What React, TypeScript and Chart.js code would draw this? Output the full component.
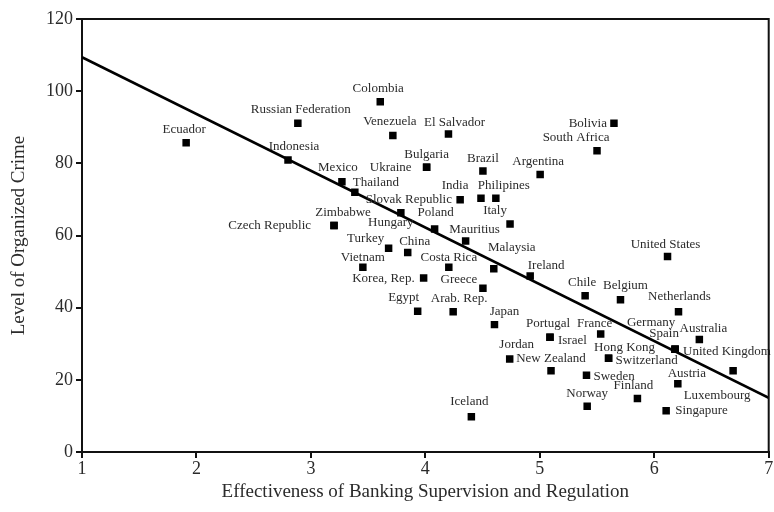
import React, { useEffect, useRef } from "react";
import { Chart, registerables } from "chart.js";

Chart.register(...registerables);

// ---- Data ----
const countries = [
  "Ecuador", "Russian Federation", "Colombia", "Venezuela", "El Salvador", "Indonesia",
  "Bolivia", "South Africa", "Bulgaria", "Ukraine", "Brazil", "Argentina", "Mexico",
  "Thailand", "India", "Philipines", "Slovak Republic", "Hungary", "Italy",
  "Czech Republic", "Zimbabwe", "Poland", "Mauritius", "Turkey", "China", "Vietnam",
  "Costa Rica", "Malaysia", "Ireland", "Korea, Rep.", "Greece", "Egypt", "Arab. Rep.",
  "Japan", "Portugal", "Israel", "Jordan", "New Zealand", "Sweden", "Norway", "Finland",
  "Singapure", "Austria", "Luxembourg", "United Kingdom", "Spain", "Germany",
  "Netherlands", "Australia", "France", "Hong Kong", "Switzerland", "Chile", "Belgium",
  "United States", "Iceland",
];

const supervision = [
  1.91, 2.886, 3.606, 3.716, 4.202, 2.8,
  5.648, 5.5, 4.011, 4.011, 4.503, 5.003, 3.271,
  3.384, 4.304, 4.616, 4.486, 3.786, 4.74,
  3.202, 3.202, 4.081, 4.352, 3.679, 3.846, 3.454,
  4.205, 4.598, 4.916, 3.985, 4.503, 3.933, 4.243,
  4.604, 5.089, 5.089, 4.737, 5.098, 5.408, 5.414, 5.853,
  6.104, 6.206, 6.689, 6.182, 6.182, 6.182,
  6.212, 6.394, 5.532, 5.601, 5.601, 5.396, 5.705,
  6.116, 4.402,
];

const organizedCrime = [
  85.7, 91.1, 97.1, 87.7, 88.1, 80.9,
  91.1, 83.5, 78.9, 78.9, 77.9, 76.9, 74.9,
  72.0, 69.9, 70.3, 70.3, 66.3, 63.2,
  62.8, 62.8, 61.8, 58.5, 56.5, 55.3, 51.2,
  51.2, 50.8, 48.8, 48.2, 45.4, 39.0, 38.9,
  35.3, 31.8, 31.8, 25.8, 22.5, 21.3, 12.7, 14.8,
  11.4, 18.9, 22.5, 28.5, 28.5, 28.5,
  38.9, 31.2, 32.7, 26.0, 26.0, 43.3, 42.2,
  54.2, 9.8,
];

const fitX = [1, 7];
const fitY = [109.4, 15.0];

const xTicks = [1, 2, 3, 4, 5, 6, 7];
const yTicks = [0, 20, 40, 60, 80, 100, 120];

// ---- Label placement (pixel offsets from marker; c=center, l=left edge, r=right edge) ----
const labelPlacement: [number, number, "c" | "l" | "r"][] = [
  [-2, -13, "c"], [3, -14, "c"], [-2, -13, "c"], [-3, -14, "c"], [6, -12, "c"], [6, -14, "c"],
  [-7, 0, "r"], [-21, -13, "c"], [0, -13, "c"], [-15, 0, "r"], [0, -12, "c"], [-2, -13, "c"], [-4, -14, "c"],
  [21, -10, "c"], [-5, -14, "c"], [8, -13, "c"], [-29, 1, "r"], [-10, 10, "c"], [-15, -13, "c"],
  [-23, 0, "r"], [9, -13, "c"], [1, -16, "c"], [9, -11, "c"], [-23, -10, "c"], [7, -11, "c"], [0, -10, "c"],
  [0, -10, "c"], [18, -21, "c"], [16, -10, "c"], [-9, 0, "r"], [-24, -9, "c"], [-14, -14, "c"], [6, -13, "c"],
  [10, -13, "c"], [-2, -14, "c"], [8, 3, "l"], [7, -14, "c"], [0, -12, "c"], [7, 1, "l"], [0, -13, "c"], [-4, -13, "c"],
  [9, 0, "l"], [9, -10, "c"], [-16, 25, "c"], [8, 2, "l"], [-11, -16, "c"], [-24, -27, "c"],
  [1, -15, "c"], [4, -11, "c"], [-6, -10, "c"], [16, -11, "c"], [7, 2, "l"], [-3, -13, "c"], [5, -14, "c"],
  [-2, -12, "c"], [-2, -15, "c"],
];

const SERIF = "'Liberation Serif', 'Times New Roman', serif";
const TEXT = "#2b2b2b";

const labelsPlugin = {
  id: "countryLabels",
  afterDatasetsDraw(chart: any) {
    const { ctx, scales } = chart;
    ctx.save();
    ctx.font = `13px ${SERIF}`;
    ctx.fillStyle = TEXT;
    ctx.textBaseline = "middle";
    countries.forEach((name, i) => {
      const px = scales.x.getPixelForValue(supervision[i]);
      const py = scales.y.getPixelForValue(organizedCrime[i]);
      const [dx, dy, al] = labelPlacement[i];
      ctx.textAlign = al === "c" ? "center" : al === "l" ? "left" : "right";
      ctx.fillText(name, px + dx, py + dy);
    });
    ctx.restore();
  },
};

const framePlugin = {
  id: "frame",
  afterDraw(chart: any) {
    const { ctx, chartArea } = chart;
    ctx.save();
    ctx.strokeStyle = "#111";
    ctx.lineWidth = 2;
    ctx.beginPath();
    ctx.moveTo(chartArea.left, chartArea.top);
    ctx.lineTo(chartArea.right, chartArea.top);
    ctx.lineTo(chartArea.right, chartArea.bottom);
    ctx.stroke();
    ctx.restore();
  },
};

export default function App() {
  const ref = useRef<HTMLCanvasElement>(null);

  useEffect(() => {
    if (!ref.current) return;
    const chart = new Chart(ref.current, {
      type: "scatter",
      data: {
        datasets: [
          {
            label: "Countries",
            data: countries.map((_, i) => ({ x: supervision[i], y: organizedCrime[i] })),
            pointStyle: "rect",
            pointRadius: 5.3,
            pointHoverRadius: 5.3,
            backgroundColor: "#000",
            borderWidth: 0,
          },
          {
            type: "line",
            label: "Fit",
            data: fitX.map((x, i) => ({ x, y: fitY[i] })),
            borderColor: "#000",
            borderWidth: 2.6,
            pointRadius: 0,
            fill: false,
          } as any,
        ],
      },
      options: {
        animation: false,
        responsive: false,
        maintainAspectRatio: false,
        events: [],
        layout: { padding: { top: 19, right: 2, left: 0, bottom: 0 } },
        plugins: {
          legend: { display: false },
          tooltip: { enabled: false },
        },
        scales: {
          x: {
            type: "linear",
            min: 1,
            max: 7,
            afterFit: (s: any) => { s.height = 60; },
            afterBuildTicks: (s: any) => { s.ticks = xTicks.map((v) => ({ value: v })); },
            ticks: {
              font: { family: SERIF, size: 18 },
              color: TEXT,
              padding: 0,
              maxRotation: 0,
            },
            grid: {
              display: true,
              drawOnChartArea: false,
              drawTicks: true,
              tickLength: 6,
              color: "#111",
              lineWidth: 2,
            },
            border: { display: true, color: "#111", width: 2 },
            title: {
              display: true,
              text: "Effectiveness of Banking Supervision and Regulation",
              font: { family: SERIF, size: 19 },
              color: TEXT,
              padding: { top: 0, bottom: 9 },
            },
          },
          y: {
            type: "linear",
            min: 0,
            max: 120,
            afterFit: (s: any) => { s.width = 82; },
            afterBuildTicks: (s: any) => { s.ticks = yTicks.map((v) => ({ value: v })); },
            ticks: {
              font: { family: SERIF, size: 18 },
              color: TEXT,
              padding: 3,
            },
            grid: {
              display: true,
              drawOnChartArea: false,
              drawTicks: true,
              tickLength: 6,
              color: "#111",
              lineWidth: 2,
            },
            border: { display: true, color: "#111", width: 2 },
            title: {
              display: true,
              text: "Level of Organized Crime",
              font: { family: SERIF, size: 19 },
              color: TEXT,
              padding: { top: 8, bottom: 0 },
            },
          },
        },
      },
      plugins: [labelsPlugin, framePlugin],
    });
    return () => chart.destroy();
  }, []);

  return (
    <div style={{ position: "fixed", left: 0, top: 0, width: 774, height: 512, background: "#fff" }}>
      <canvas ref={ref} width={774} height={512} style={{ width: 774, height: 512 }} />
    </div>
  );
}
